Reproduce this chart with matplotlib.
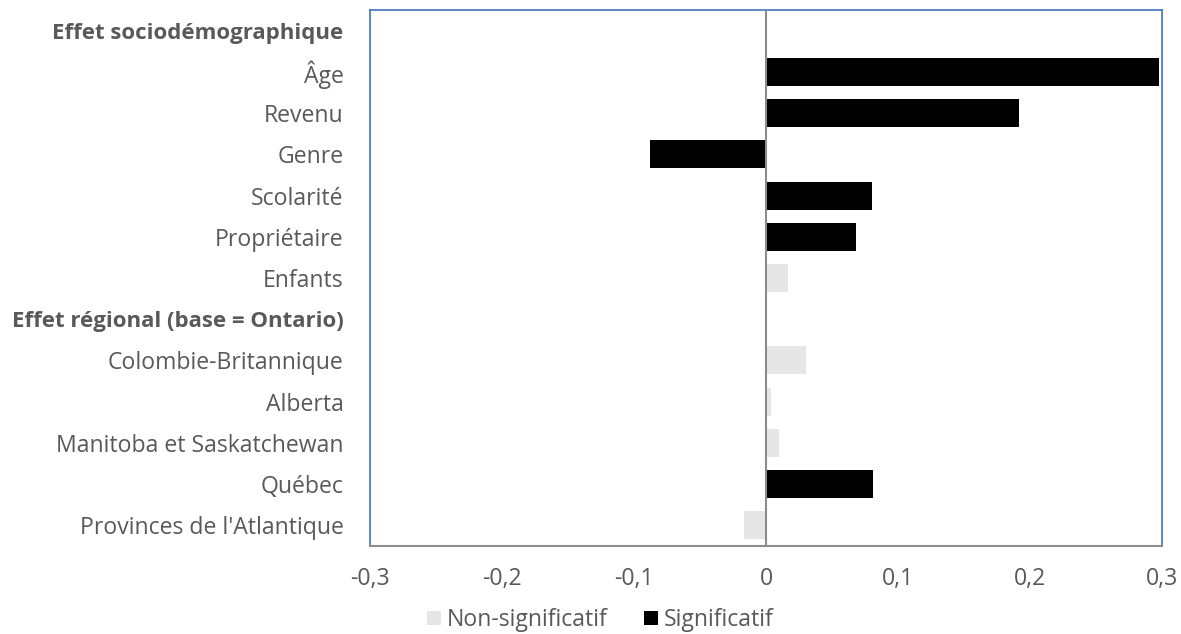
import matplotlib
matplotlib.use("Agg")
import matplotlib.pyplot as plt
import numpy as np

categories = ["Effet sociodémographique", "Âge", "Revenu", "Genre", "Scolarité",
              "Propriétaire", "Enfants", "Effet régional (base = Ontario)",
              "Colombie-Britannique", "Alberta", "Manitoba et Saskatchewan",
              "Québec", "Provinces de l'Atlantique"]
headers = ["Effet sociodémographique", "Effet régional (base = Ontario)"]
values = [np.nan, 0.298, 0.192, -0.088, 0.080, 0.068, 0.017, np.nan,
          0.030, 0.004, 0.010, 0.081, -0.017]
significant = [False, True, True, True, True, True, False, False,
               False, False, False, True, False]
xticks = [-0.3, -0.2, -0.1, 0, 0.1, 0.2, 0.3]
xticklabels = ["-0,3", "-0,2", "-0,1", "0", "0,1", "0,2", "0,3"]

plt.rcParams['font.family'] = ['Open Sans', 'DejaVu Sans']
text_color = "#595959"
fs = 16.6

fig = plt.figure(figsize=(11.81, 6.34), dpi=100)
ax = fig.add_axes([370/1181, 1-546/634, (1162-370)/1181, (546-10)/634])

y = np.arange(len(categories))
nonsig_vals = [v if (not s and not np.isnan(v)) else 0 for v, s in zip(values, significant)]
sig_vals = [v if s else 0 for v, s in zip(values, significant)]

ax.barh(y, nonsig_vals, height=0.68, color="#e6e6e6", label="Non-significatif")
ax.barh(y, sig_vals, height=0.68, color="#000000", label="Significatif")

ax.set_xlim(-0.3, 0.3)
ax.set_ylim(len(categories) - 0.5, -0.5)
ax.axvline(0, color="#8c8c8c", lw=1.5, zorder=3)

ax.set_yticks(y)
ax.set_yticklabels(categories, fontsize=fs, color=text_color)
for lbl in ax.get_yticklabels():
    if lbl.get_text() in headers:
        lbl.set_fontweight("bold")
        lbl.set_fontsize(16)
ax.set_xticks(xticks)
ax.set_xticklabels(xticklabels, fontsize=fs, color=text_color)
ax.tick_params(axis="both", length=0)
ax.tick_params(axis="x", pad=15)
ax.tick_params(axis="y", pad=19)

for s in ["top", "left", "right"]:
    ax.spines[s].set_color("#4472c4")
    ax.spines[s].set_linewidth(1.2)
ax.spines["bottom"].set_color("#8c8c8c")
ax.spines["bottom"].set_linewidth(1.5)

leg = fig.legend(loc="center", bbox_to_anchor=(600/1181, 1-620/634), ncol=2,
                 frameon=False, fontsize=fs, handlelength=0.6, handleheight=0.6,
                 handletextpad=0.25, columnspacing=1.6)
for t in leg.get_texts():
    t.set_color(text_color)

fig.savefig("out.png", dpi=100)
